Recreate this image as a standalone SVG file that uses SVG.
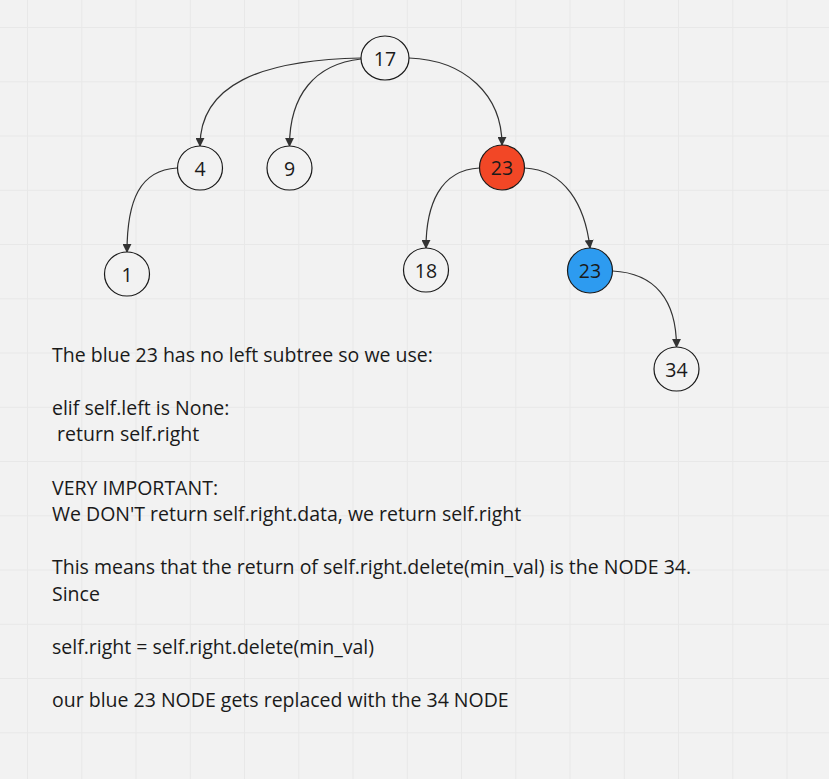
<svg xmlns="http://www.w3.org/2000/svg" width="829" height="779" viewBox="0 0 829 779">
<defs>
<style>
.grid line{stroke:#e8e8e8;stroke-width:1}
.node ellipse{stroke:#1a1a1a;stroke-width:1.2}
.node text{font-family:"Open Sans","Liberation Sans",sans-serif;font-size:19.5px;fill:#1a1a1a;text-anchor:middle;dominant-baseline:central}
.edge{fill:none;stroke:#333;stroke-width:1.2;marker-end:url(#arr)}
.txt{font-family:"Open Sans","Liberation Sans",sans-serif;font-size:19.5px;fill:#1a1a1a;white-space:pre}
</style>
<marker id="arr" viewBox="0 0 10 10" refX="9" refY="5" markerWidth="9" markerHeight="9" markerUnits="userSpaceOnUse" orient="auto">
<path d="M0,0 L10,5 L0,10 z" fill="#333"/>
</marker>
</defs>
<rect width="829" height="779" fill="#f2f2f2"/>
<g class="grid">
<line x1="27.5" y1="0" x2="27.5" y2="779"/><line x1="81.75" y1="0" x2="81.75" y2="779"/><line x1="136" y1="0" x2="136" y2="779"/><line x1="190.25" y1="0" x2="190.25" y2="779"/><line x1="244.5" y1="0" x2="244.5" y2="779"/><line x1="298.75" y1="0" x2="298.75" y2="779"/><line x1="353" y1="0" x2="353" y2="779"/><line x1="407.25" y1="0" x2="407.25" y2="779"/><line x1="461.5" y1="0" x2="461.5" y2="779"/><line x1="515.75" y1="0" x2="515.75" y2="779"/><line x1="570" y1="0" x2="570" y2="779"/><line x1="624.25" y1="0" x2="624.25" y2="779"/><line x1="678.5" y1="0" x2="678.5" y2="779"/><line x1="732.75" y1="0" x2="732.75" y2="779"/><line x1="787" y1="0" x2="787" y2="779"/>
<line x1="0" y1="27.5" x2="829" y2="27.5"/><line x1="0" y1="81.75" x2="829" y2="81.75"/><line x1="0" y1="136" x2="829" y2="136"/><line x1="0" y1="190.25" x2="829" y2="190.25"/><line x1="0" y1="244.5" x2="829" y2="244.5"/><line x1="0" y1="298.75" x2="829" y2="298.75"/><line x1="0" y1="353" x2="829" y2="353"/><line x1="0" y1="407.25" x2="829" y2="407.25"/><line x1="0" y1="461.5" x2="829" y2="461.5"/><line x1="0" y1="515.75" x2="829" y2="515.75"/><line x1="0" y1="570" x2="829" y2="570"/><line x1="0" y1="624.25" x2="829" y2="624.25"/><line x1="0" y1="678.5" x2="829" y2="678.5"/><line x1="0" y1="732.75" x2="829" y2="732.75"/>
</g>
<g id="connectors">
<path class="edge" d="M361,58 C260,60 200,85 200,146"/>
<path class="edge" d="M361,59 C315,64 289.5,95 289.5,146"/>
<path class="edge" d="M409,58 C465,60 502,95 502,145"/>
<path class="edge" d="M177,168 C140,170 127,200 127,252"/>
<path class="edge" d="M479.5,168 C440,170 426,205 426,248"/>
<path class="edge" d="M524.5,168 C565,170 585,205 590,248"/>
<path class="edge" d="M612.5,271 C655,273 676.5,300 676.5,347"/>
</g>
<g id="n17" class="node"><ellipse cx="385" cy="58" rx="24" ry="22" fill="#f2f2f2"/><text x="385" y="58">17</text></g>
<g id="n4" class="node"><ellipse cx="200" cy="168" rx="22.5" ry="22" fill="#f2f2f2"/><text x="200" y="168">4</text></g>
<g id="n9" class="node"><ellipse cx="289.5" cy="168" rx="22.5" ry="22" fill="#f2f2f2"/><text x="289.5" y="168">9</text></g>
<g id="n23r" class="node"><ellipse cx="502" cy="167.5" rx="22.5" ry="22.5" fill="#f24726"/><text x="502" y="167.5">23</text></g>
<g id="n1" class="node"><ellipse cx="127" cy="274" rx="22.5" ry="22" fill="#f2f2f2"/><text x="127" y="274">1</text></g>
<g id="n18" class="node"><ellipse cx="426" cy="270" rx="22.5" ry="22" fill="#f2f2f2"/><text x="426" y="270">18</text></g>
<g id="n23b" class="node"><ellipse cx="590" cy="270.5" rx="22.5" ry="22.5" fill="#2d9bf0"/><text x="590" y="270.5">23</text></g>
<g id="n34" class="node"><ellipse cx="676.5" cy="369" rx="22.5" ry="22" fill="#f2f2f2"/><text x="676.5" y="369">34</text></g>
<g id="note" class="txt">
<text x="52" y="361.5">The blue 23 has no left subtree so we use:</text>
<text x="52" y="414.8">elif self.left is None:</text>
<text x="52" y="441.4" xml:space="preserve"> return self.right</text>
<text x="52" y="494.6">VERY IMPORTANT:</text>
<text x="52" y="521.2">We DON'T return self.right.data, we return self.right</text>
<text x="52" y="574.4">This means that the return of self.right.delete(min_val) is the NODE 34.</text>
<text x="52" y="601">Since</text>
<text x="52" y="654.2">self.right = self.right.delete(min_val)</text>
<text x="52" y="707.4">our blue 23 NODE gets replaced with the 34 NODE</text>
</g>
</svg>
